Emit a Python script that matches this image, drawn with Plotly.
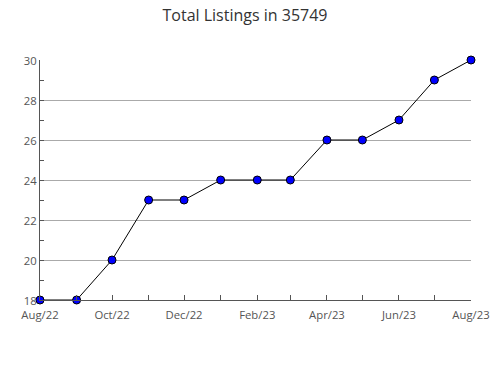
import plotly.graph_objects as go

months = ["2022-08-01", "2022-09-01", "2022-10-01", "2022-11-01", "2022-12-01",
          "2023-01-01", "2023-02-01", "2023-03-01", "2023-04-01", "2023-05-01",
          "2023-06-01", "2023-07-01", "2023-08-01"]
listings = [18, 18, 20, 23, 23, 24, 24, 24, 26, 26, 27, 29, 30]
tick_months = ["2022-08-01", "2022-10-01", "2022-12-01", "2023-02-01",
               "2023-04-01", "2023-06-01", "2023-08-01"]
tick_labels = ["Aug/22", "Oct/22", "Dec/22", "Feb/23", "Apr/23", "Jun/23", "Aug/23"]

fig = go.Figure(go.Scatter(
    x=months, y=listings, mode="lines+markers",
    line=dict(color="black", width=1),
    marker=dict(color="#0000ff", size=8, line=dict(color="black", width=1)),
    cliponaxis=False,
))

fig.update_layout(
    width=490, height=380,
    margin=dict(l=40, r=19, t=60, b=80, autoexpand=False),
    paper_bgcolor="white", plot_bgcolor="white",
    font=dict(family="Open Sans", color="#555", size=11.3),
    title=dict(text="Total Listings in 35749", x=0.5, xanchor="center",
               y=0.96, yanchor="middle",
               font=dict(size=16, color="#333", family="Open Sans")),
    showlegend=False,
)
fig.update_xaxes(
    range=["2022-08-01", "2023-08-01"], automargin=False,
    tickvals=tick_months, ticktext=tick_labels,
    ticks="inside", ticklen=5, tickcolor="#555",
    minor=dict(dtick="M1", tick0="2022-08-01", ticks="inside", ticklen=5, tickcolor="#555"),
    showgrid=False, showline=True, linecolor="#555", linewidth=1,
    zeroline=False, ticklabelstandoff=4,
)
fig.update_yaxes(
    range=[18, 30], dtick=2, tick0=18, automargin=False,
    ticks="inside", ticklen=4, tickcolor="#555",
    minor=dict(dtick=1, ticks="inside", ticklen=4, tickcolor="#555", showgrid=False),
    showgrid=True, gridcolor="#aaa", gridwidth=1,
    showline=True, linecolor="#555", linewidth=1, zeroline=False,
    ticklabelshift=1,
)

fig.write_html("out.html")
